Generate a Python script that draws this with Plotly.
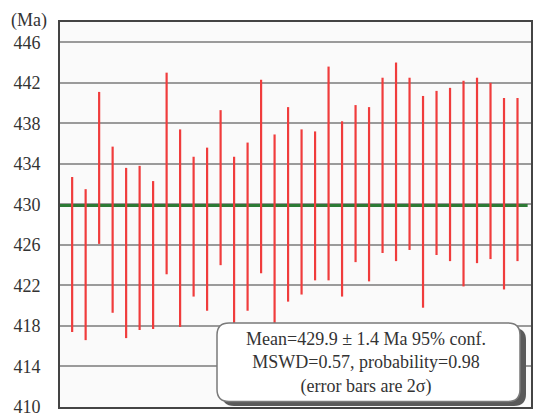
import plotly.graph_objects as go

# Data (Ma), 2-sigma error bar ends
spot = list(range(1, 35))
upper = [432.7, 431.5, 441.1, 435.7, 433.6, 433.8, 432.3, 443.0, 437.4, 434.7,
         435.6, 439.3, 434.7, 436.1, 442.3, 436.9, 439.6, 437.4, 437.2, 443.6,
         438.2, 439.8, 439.6, 442.5, 444.0, 442.5, 440.7, 441.2, 441.5, 442.2,
         442.5, 442.0, 440.5, 440.5]
lower = [417.4, 416.6, 426.1, 419.3, 416.8, 417.6, 417.7, 423.1, 417.9, 420.9,
         419.5, 424.0, 417.6, 419.5, 423.2, 417.4, 420.4, 421.1, 422.5, 422.5,
         420.9, 424.3, 422.4, 425.2, 424.4, 425.5, 419.8, 425.0, 424.4, 421.9,
         424.2, 424.6, 421.6, 424.4]
mean_age = 429.9
y_ticks = [410, 414, 418, 422, 426, 430, 434, 438, 442, 446]
box_lines = ["Mean=429.9 ± 1.4 Ma 95% conf.",
             "MSWD=0.57, probability=0.98",
             "(error bars are 2σ)"]

SERIF = "Liberation Serif, Times New Roman, DejaVu Serif, serif"

xs, ys = [], []
for s, lo, hi in zip(spot, lower, upper):
    xs += [s, s, None]
    ys += [lo, hi, None]

fig = go.Figure()
fig.add_trace(go.Scatter(x=[0.1, 34.75], y=[mean_age, mean_age], mode="lines",
                         line=dict(color="#2d7a35", width=3), hoverinfo="skip"))
fig.add_trace(go.Scatter(x=xs, y=ys, mode="lines",
                         line=dict(color="#f03c3c", width=2.2), hoverinfo="skip"))

OFF = 8  # page body margin
W, H = 544 - OFF, 415 - OFF
# plot area in window pixels: x 60..531, y 22..407
ml, mr, mt, mb = 60 - OFF, 13, 22 - OFF, 8
pw, ph = W - ml - mr, H - mt - mb

def px2paper(x, y):
    return (x - 60) / pw, (407 - y) / ph

def rrect(x0, y0, x1, y1, r):
    rx, ry = r / pw, r / ph
    a0, b0 = px2paper(x0, y1)
    a1, b1 = px2paper(x1, y0)
    return (f"M {a0+rx},{b0} L {a1-rx},{b0} Q {a1},{b0} {a1},{b0+ry} "
            f"L {a1},{b1-ry} Q {a1},{b1} {a1-rx},{b1} L {a0+rx},{b1} "
            f"Q {a0},{b1} {a0},{b1-ry} L {a0},{b0+ry} Q {a0},{b0} {a0+rx},{b0} Z")

shapes = [
    dict(type="path", xref="paper", yref="paper", path=rrect(222, 328, 526, 406, 12),
         fillcolor="#5a5a5a", line=dict(width=0), layer="above"),
    dict(type="path", xref="paper", yref="paper", path=rrect(217, 323, 520, 401.5, 12),
         fillcolor="#ffffff", line=dict(color="#7a7a7a", width=1.5), layer="above"),
]

cx, cy = px2paper(366, 363.3)
fig.add_annotation(xref="paper", yref="paper", x=cx, y=cy, xanchor="center",
                   yanchor="middle", align="center", showarrow=False,
                   text="<br>".join(box_lines),
                   font=dict(family=SERIF, size=18, color="#333333"))
fig.add_annotation(xref="paper", yref="paper", x=0, y=1, xanchor="right",
                   yanchor="middle", xshift=-11, yshift=2, showarrow=False,
                   text="(Ma)", font=dict(family=SERIF, size=18, color="#333333"))

fig.update_layout(
    width=W, height=H, margin=dict(l=ml, r=mr, t=mt, b=mb, autoexpand=False),
    paper_bgcolor="#ffffff", plot_bgcolor="#fafafa", showlegend=False,
    font=dict(family=SERIF),
    shapes=shapes,
    xaxis=dict(range=[0.1, 35.0], showgrid=False, zeroline=False,
               showticklabels=False, showline=True, linecolor="#444444",
               linewidth=2, mirror=True, ticks="", automargin=False),
    yaxis=dict(range=[410, 448], tickvals=y_ticks, showgrid=True,
               gridcolor="#9a9a9a", gridwidth=2, zeroline=False,
               showline=True, linecolor="#444444", linewidth=2, mirror=True,
               ticks="outside", ticklen=14, tickcolor="rgba(0,0,0,0)",
               ticklabeloverflow="allow", automargin=False,
               tickfont=dict(family=SERIF, size=18, color="#333333")),
)

fig.write_html("out.html")
